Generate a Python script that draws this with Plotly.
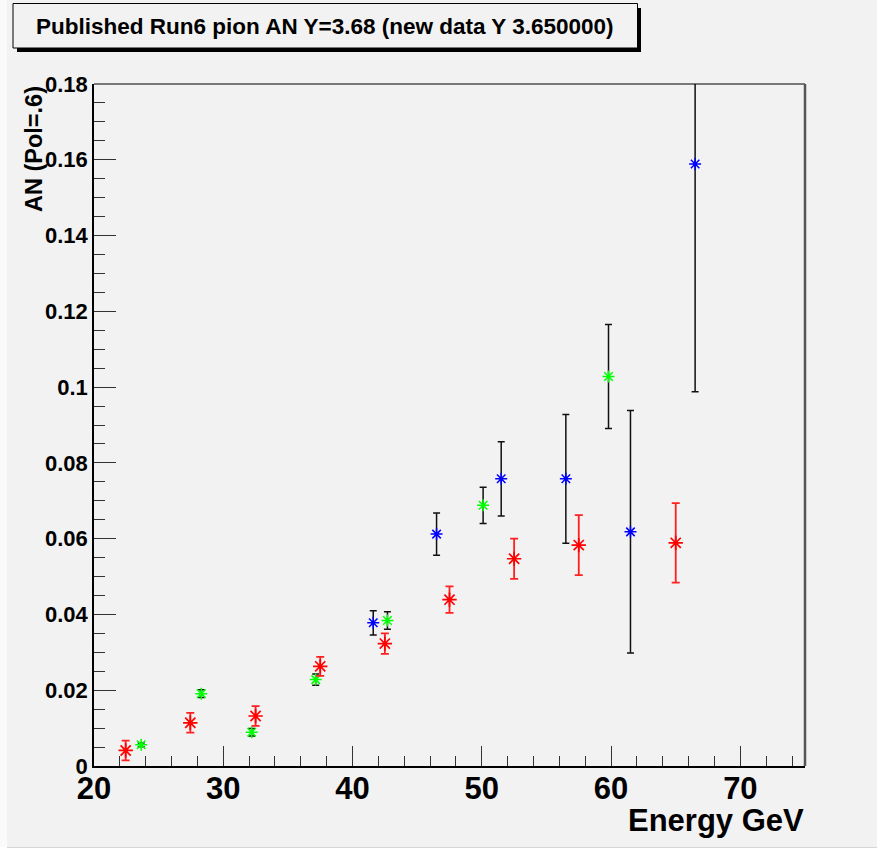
import plotly.graph_objects as go

# ---------------- data ----------------
red_x = [22.45, 27.45, 32.5, 37.5, 42.5, 47.5, 52.5, 57.5, 65.0]
red_y = [0.0041, 0.0114, 0.0132, 0.0263, 0.0323, 0.0439, 0.0547, 0.0583, 0.0589]
red_err = [0.0026, 0.0026, 0.0026, 0.0025, 0.0027, 0.0035, 0.0053, 0.0079, 0.0105]

green_x = [23.65, 28.3, 32.2, 37.15, 42.7, 50.1, 59.8]
green_y = [0.0056, 0.0191, 0.0089, 0.0228, 0.0384, 0.0688, 0.1028]
green_err = [0.0005, 0.0010, 0.0010, 0.0015, 0.0023, 0.0048, 0.0137]

blue_x = [41.6, 46.5, 51.5, 56.5, 61.5, 66.5]
blue_y = [0.0378, 0.0612, 0.0758, 0.0758, 0.0618, 0.1589]
blue_err = [0.0032, 0.0056, 0.0098, 0.0170, 0.0320, 0.0601]

x_tick_vals = [20, 30, 40, 50, 60, 70]
x_tick_text = ["20", "30", "40", "50", "60", "70"]
y_tick_vals = [0, 0.02, 0.04, 0.06, 0.08, 0.1, 0.12, 0.14, 0.16, 0.18]
y_tick_text = ["0", "0.02", "0.04", "0.06", "0.08", "0.1", "0.12", "0.14", "0.16", "0.18"]

title_text = "Published Run6 pion AN Y=3.68 (new data Y 3.650000)"
x_title = "Energy GeV"
y_title = "AN (Pol=.6)"

# ---------------- layout geometry ----------------
W, H = 882, 850
L, R, T, B = 94, 77, 84, 84
PW, PH = W - L - R, H - T - B


def px(x):
    return (x - L) / PW


def py(y):
    return (H - B - y) / PH


FONT = "Liberation Sans, Arial, Helvetica, sans-serif"
BG = "#f2f2f2"

fig = go.Figure()

fig.add_trace(go.Scatter(
    x=blue_x, y=blue_y, mode="markers",
    marker=dict(symbol="asterisk-open", size=10, color="#0000ff",
                line=dict(color="#0000ff", width=1.5)),
    error_y=dict(type="data", array=blue_err, color="#111111",
                 thickness=1.5, width=3.5),
    showlegend=False,
))
fig.add_trace(go.Scatter(
    x=green_x, y=green_y, mode="markers",
    marker=dict(symbol="asterisk-open", size=10, color="#00ff00",
                line=dict(color="#00ff00", width=1.5)),
    error_y=dict(type="data", array=green_err, color="#111111",
                 thickness=1.5, width=3.5),
    showlegend=False,
))
fig.add_trace(go.Scatter(
    x=red_x, y=red_y, mode="markers",
    marker=dict(symbol="asterisk-open", size=12, color="#ff0000",
                line=dict(color="#ff0000", width=1.7)),
    error_y=dict(type="data", array=red_err, color="#ff2020",
                 thickness=1.8, width=4),
    showlegend=False,
))

fig.update_xaxes(
    range=[20, 75], showgrid=False, zeroline=False,
    showline=True, linecolor="#000000", linewidth=1.5, mirror=False,
    ticks="inside", ticklen=20, tickwidth=1.2, tickcolor="#333333",
    tickvals=x_tick_vals, ticktext=x_tick_text,
    minor=dict(ticks="inside", ticklen=10, tickwidth=1.2, tickcolor="#333333", dtick=2),
    tickfont=dict(family=FONT, size=31, color="#000000", weight="bold"),
    ticklabelstandoff=-6,
)
fig.update_yaxes(
    range=[0, 0.18], showgrid=False, zeroline=False,
    showline=True, linecolor="#000000", linewidth=1.5, mirror=False,
    ticks="inside", ticklen=22, tickwidth=1.2, tickcolor="#333333",
    tickvals=y_tick_vals, ticktext=y_tick_text,
    minor=dict(ticks="inside", ticklen=11, tickwidth=1.2, tickcolor="#333333", dtick=0.005),
    tickfont=dict(family=FONT, size=22, color="#000000", weight="bold"),
)

shapes = [
    # canvas borders
    dict(type="rect", xref="paper", yref="paper", x0=px(0), x1=px(7), y0=py(850), y1=py(0),
         fillcolor="#fafafa", line=dict(width=0), layer="below"),
    dict(type="rect", xref="paper", yref="paper", x0=px(877), x1=px(882), y0=py(850), y1=py(0),
         fillcolor="#ffffff", line=dict(width=0), layer="below"),
    dict(type="rect", xref="paper", yref="paper", x0=px(0), x1=px(882), y0=py(850), y1=py(847),
         fillcolor="#ffffff", line=dict(width=0), layer="below"),
    dict(type="line", xref="paper", yref="paper", x0=px(7), x1=px(877), y0=py(847.5), y1=py(847.5),
         line=dict(color="#d6d6d6", width=1)),
    # frame top and right
    dict(type="line", xref="paper", yref="paper", x0=0, x1=1, y0=1, y1=1,
         line=dict(color="#000000", width=1.2)),
    dict(type="line", xref="paper", yref="paper", x0=1, x1=1, y0=0, y1=1,
         line=dict(color="#555555", width=2.5)),
    # title box shadow and box
    dict(type="rect", xref="paper", yref="paper", x0=px(17), x1=px(641), y0=py(52), y1=py(8),
         fillcolor="#000000", line=dict(width=0)),
    dict(type="rect", xref="paper", yref="paper", x0=px(13), x1=px(637.5), y0=py(48), y1=py(3.5),
         fillcolor=BG, line=dict(color="#000000", width=1)),
]

annotations = [
    dict(text=title_text, xref="paper", yref="paper", x=px(325), y=py(26),
         xanchor="center", yanchor="middle", showarrow=False,
         font=dict(family=FONT, size=22.5, color="#000000", weight="bold")),
    dict(text=x_title, xref="paper", yref="paper", x=px(806), y=py(820),
         xanchor="right", yanchor="middle", showarrow=False,
         font=dict(family=FONT, size=31, color="#000000", weight="bold")),
    dict(text=y_title, xref="paper", yref="paper", x=px(34), y=py(84),
         xanchor="center", yanchor="top", textangle=-90, showarrow=False,
         font=dict(family=FONT, size=23.5, color="#000000", weight="bold")),
]

fig.update_layout(
    width=W, height=H,
    margin=dict(l=L, r=R, t=T, b=B, pad=0),
    paper_bgcolor=BG, plot_bgcolor=BG,
    shapes=shapes, annotations=annotations,
    showlegend=False,
)

fig.write_html("out.html")
